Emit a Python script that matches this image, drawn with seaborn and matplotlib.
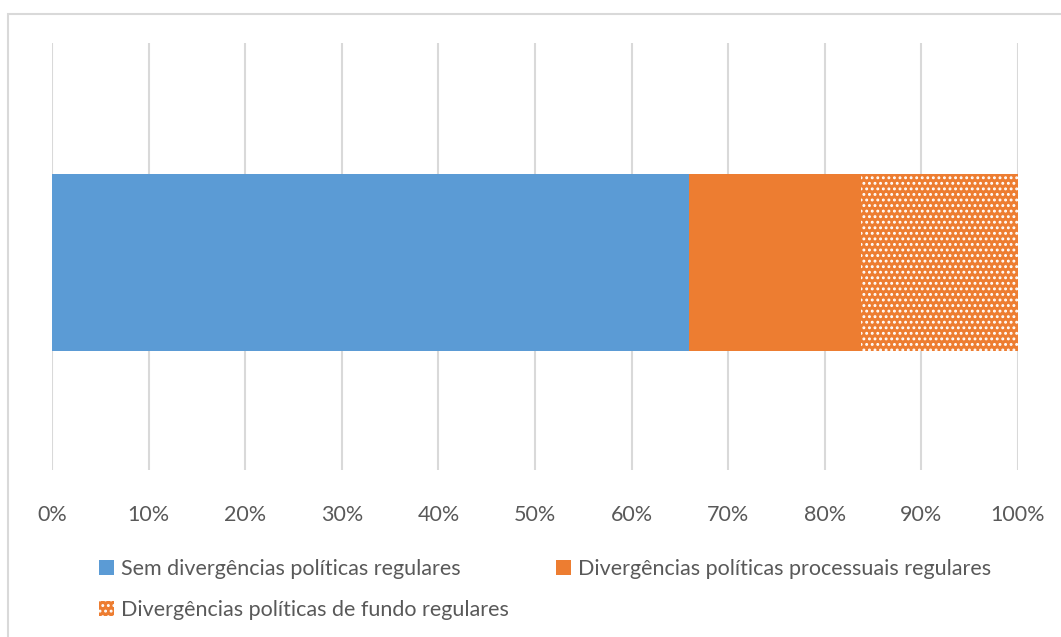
import matplotlib
matplotlib.use("Agg")
import matplotlib.pyplot as plt
import seaborn as sns
import pandas as pd
from matplotlib.patches import Rectangle, Patch

categories = ["Sem divergências políticas regulares",
              "Divergências políticas processuais regulares",
              "Divergências políticas de fundo regulares"]
values = [65.9, 17.8, 16.3]
tick_labels = ["0%", "10%", "20%", "30%", "40%", "50%", "60%", "70%", "80%", "90%", "100%"]

blue = "#5B9BD5"
orange = "#ED7D31"
text_color = "#595959"

sns.set_theme(style="white")
plt.rcParams['font.family'] = ['Lato', 'DejaVu Sans']
plt.rcParams['hatch.linewidth'] = 1.3

fig = plt.figure(figsize=(10.61, 6.37), dpi=100)
W, H = 1061, 637
ax = fig.add_axes([52 / W, 1 - 470 / H, (1018 - 52) / W, (470 - 43) / H])

# cumulative totals for stacking (draw from largest to smallest)
cum = []
s = 0
for v in values:
    s += v
    cum.append(s)

HATCH = "..."
bar_h = 177 / 427
styles = [dict(color=blue, hatch=None), dict(color=orange, hatch=None), dict(color=orange, hatch=HATCH)]
for i in reversed(range(len(values))):
    df = pd.DataFrame({"v": [cum[i]], "c": ["a"]})
    sns.barplot(data=df, x="v", y="c", orient="h", ax=ax, width=bar_h,
                color=styles[i]["color"], saturation=1, linewidth=0, zorder=3)
    bar = ax.patches[-1]
    bar.set_facecolor(styles[i]["color"])
    if styles[i]["hatch"]:
        bar.set_hatch(styles[i]["hatch"])
        bar.set_edgecolor("white")
        bar.set_linewidth(0)

ax.set_xlim(0, 100)
ax.set_ylim(0.486, -0.514)
ax.set_xticks(range(0, 101, 10))
ax.set_xticklabels(tick_labels, fontsize=15.5, color=text_color)
ax.tick_params(axis="x", length=0, pad=25)
ax.set_yticks([])
ax.set_xlabel("")
ax.set_ylabel("")
for sp in ax.spines.values():
    sp.set_visible(False)
ax.grid(axis="x", color="#D9D9D9", linewidth=1.5, zorder=0)
ax.set_axisbelow(True)

h_blue = Patch(facecolor=blue, edgecolor="none")
h_orange = Patch(facecolor=orange, edgecolor="none")
h_hatch = Patch(facecolor=orange, edgecolor="white", hatch=HATCH, linewidth=0)
handles = [h_blue, h_hatch, h_orange]
labels = [categories[0], categories[2], categories[1]]
leg = fig.legend(handles, labels, loc="upper left", bbox_to_anchor=(80 / W, 1 - 540 / H),
                 ncol=2, frameon=False, fontsize=15.5, handlelength=0.7, handleheight=0.7,
                 handletextpad=0.3, columnspacing=2.2, labelspacing=0.95, labelcolor=text_color)

fig.patches.append(Rectangle((8 / W, -0.1), 1.2, 1 - 14 / H + 0.1, transform=fig.transFigure,
                             fill=False, edgecolor="#D9D9D9", linewidth=1.5, zorder=0))

fig.savefig("out.png", dpi=100, facecolor="white")
